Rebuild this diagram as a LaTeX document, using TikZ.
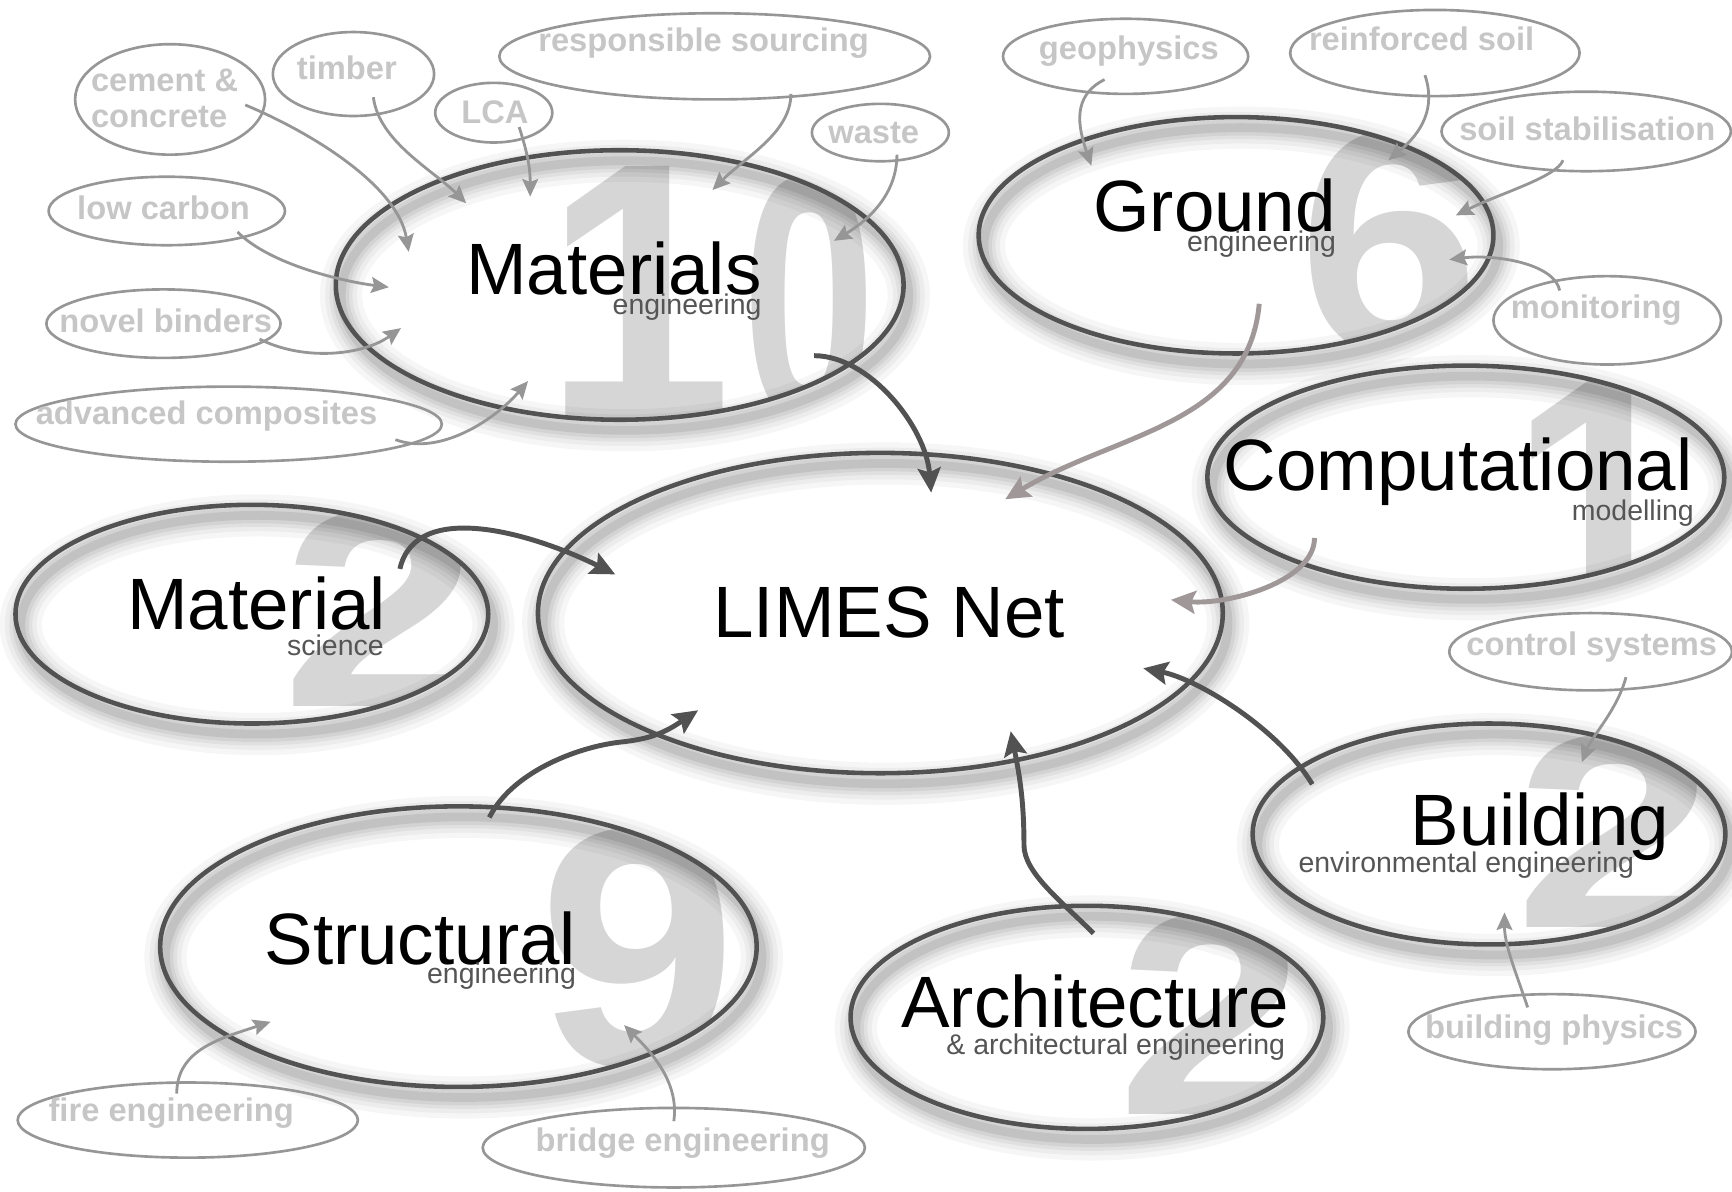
\documentclass[tikz,border=0pt]{standalone}
\usepackage{fontspec}
\setmainfont{Liberation Sans}
\usetikzlibrary{arrows.meta,shapes.geometric,shadows,backgrounds}

\newdimen\pxu \pxu=0.11046mm
\definecolor{ringdark}{RGB}{82,82,82}
\definecolor{ringgray}{RGB}{150,150,150}
\definecolor{taggray}{RGB}{198,198,198}
\definecolor{numgray}{RGB}{214,214,214}
\definecolor{subgray}{RGB}{85,85,85}
\definecolor{taupe}{RGB}{160,152,152}

\tikzset{
  haze/.style 2 args={drop shadow={fill=none, draw=black, line width=#1, opacity=#2,
      shadow xshift=1.5pt, shadow yshift=-3pt}},
  glow/.style={haze={12pt}{0.035}, haze={9pt}{0.04}, haze={6.5pt}{0.05},
    haze={4.5pt}{0.06}, haze={2.5pt}{0.08}},
}

\begin{document}
\begin{tikzpicture}[x=0.11046mm, y=-0.11046mm,
    topic/.style n args={2}{ellipse, minimum width=#1*\pxu, minimum height=#2*\pxu,
      inner sep=0pt, draw=ringdark, line width=1.3pt, glow},
    tag/.style n args={2}{ellipse, minimum width=#1*\pxu, minimum height=#2*\pxu,
      inner sep=0pt, draw=ringgray, line width=0.75pt},
    tagtext/.style={text=taggray, font=\bfseries\fontsize{9.3}{10.5}\selectfont, inner sep=0pt},
    headline/.style={font=\fontsize{20.7}{24}\selectfont, inner sep=0pt, anchor=base east},
    subline/.style={font=\fontsize{8.1}{9}\selectfont, text=subgray, inner sep=0pt, anchor=base east},
    bignum/.style={text=numgray, font=\bfseries, inner sep=0pt, anchor=south},
    lead/.style={draw=ringdark, line width=1.4pt, -{Stealth[length=7pt,width=6.5pt,inset=1.2pt]}},
    feed/.style={draw=ringgray, line width=0.8pt, -{Stealth[length=5pt,width=4.5pt,inset=0.8pt]}}]
  \useasboundingbox (0,0) rectangle (1568,1079);

  % main topics
  \node[topic={514}{244}] (mats) at (561,258) {};
  \node[topic={466}{214}] (grnd) at (1119,213) {};
  \node[topic={468}{202}] (comp) at (1327,432) {};
  \node[topic={620}{290}] (limes) at (797,555) {};
  \node[topic={428}{198}] (msci) at (228,556) {};
  \node[topic={540}{254}] (strc) at (415,857) {};
  \node[topic={428}{202}] (arch) at (984,921) {};
  \node[topic={428}{200}] (bldg) at (1348,755) {};

  % big counts behind the topics
  \begin{scope}[on background layer]
    \begin{scope}
      \clip (mats.center) ellipse [x radius=257, y radius=122];
      \node[bignum] (mats-n1) at (578,380) {\resizebox{170\pxu}{229\pxu}{1}};
      \node[bignum] (mats-n0) at (733,384) {\resizebox{121\pxu}{222\pxu}{0}};
    \end{scope}
    \begin{scope}
      \clip (grnd.center) ellipse [x radius=233, y radius=107];
      \node[bignum] (grnd-n) at (1258,322) {\resizebox{164\pxu}{200\pxu}{6}};
    \end{scope}
    \begin{scope}
      \clip (comp.center) ellipse [x radius=234, y radius=101];
      \node[bignum] (comp-n) at (1450,570) {\resizebox{166\pxu}{224\pxu}{1}};
    \end{scope}
    \begin{scope}
      \clip (msci.center) ellipse [x radius=214, y radius=99];
      \node[bignum] (msci-n) at (344,640) {\resizebox{179\pxu}{178\pxu}{2}};
    \end{scope}
    \begin{scope}
      \clip (strc.center) ellipse [x radius=270, y radius=127];
      \node[bignum] (strc-n) at (578,968) {\resizebox{180\pxu}{215\pxu}{9}};
    \end{scope}
    \begin{scope}
      \clip (arch.center) ellipse [x radius=214, y radius=101];
      \node[bignum] (arch-n) at (1097,1010) {\resizebox{170\pxu}{182\pxu}{2}};
    \end{scope}
    \begin{scope}
      \clip (bldg.center) ellipse [x radius=214, y radius=100];
      \node[bignum] (bldg-n) at (1462,840) {\resizebox{182\pxu}{175\pxu}{2}};
    \end{scope}
  \end{scope}

  % titles
  \node[headline] (mats-t) at (690,267) {Materials};
  \node[subline] (mats-s) at (690,285) {engineering};
  \node[headline] (grnd-t) at (1210,210) {Ground};
  \node[subline] (grnd-s) at (1210,228) {engineering};
  \node[headline] (comp-t) at (1533,444) {Computational};
  \node[subline] (comp-s) at (1534,471) {modelling};
  \node[headline, anchor=base] (limes-t) at (805,577) {LIMES Net};
  \node[headline] (msci-t) at (350,570) {Material};
  \node[subline] (msci-s) at (348,593) {science};
  \node[headline] (strc-t) at (522,873) {Structural};
  \node[subline] (strc-s) at (522,890) {engineering};
  \node[headline] (arch-t) at (1168,930) {Architecture};
  \node[subline] (arch-s) at (1164,955) {\& architectural engineering};
  \node[headline] (bldg-t) at (1512,765) {Building};
  \node[subline] (bldg-s) at (1480,790) {environmental engineering};

  % themes
  \node[tag={172}{100}, label={[tagtext, align=left, shift={(-5,-1)}]center:cement \&\\concrete}] (cement) at (154,90) {};
  \node[tag={146}{76}, label={[tagtext, shift={(-6,-6)}]center:timber}] (timber) at (320,67) {};
  \node[tag={106}{54}, label={[tagtext, shift={(1,0)}]center:LCA}] (lca) at (447,102) {};
  \node[tag={390}{78}, label={[tagtext, shift={(-10,-12)}]center:responsible sourcing}] (sourcing) at (647,51) {};
  \node[tag={124}{52}, label={[tagtext, shift={(-6,0)}]center:waste}] (waste) at (797,120) {};
  \node[tag={214}{62}, label={[tagtext, shift={(-3,-3)}]center:low carbon}] (lowcarb) at (151,191) {};
  \node[tag={212}{62}, label={[tagtext, shift={(2,-3)}]center:novel binders}] (binders) at (148,293) {};
  \node[tag={386}{68}, label={[tagtext, shift={(-20,-7)}]center:advanced composites}] (composites) at (207,384) {};
  \node[tag={222}{68}, label={[tagtext, shift={(3,-5)}]center:geophysics}] (geophys) at (1019,51) {};
  \node[tag={262}{78}, label={[tagtext, shift={(-12,-13)}]center:reinforced soil}] (reinsoil) at (1299,48) {};
  \node[tag={262}{72}, label={[tagtext, shift={(1,-2)}]center:soil stabilisation}] (soilstab) at (1436,119) {};
  \node[tag={206}{80}, label={[tagtext, shift={(-10,-9)}]center:monitoring}] (monitor) at (1455,290) {};
  \node[tag={256}{70}, label={[tagtext, shift={(1,-4)}]center:control systems}] (control) at (1440,590) {};
  \node[tag={260}{68}, label={[tagtext, shift={(2,-1)}]center:building physics}] (bphys) at (1405,934) {};
  \node[tag={308}{68}, label={[tagtext, shift={(-15,-6)}]center:fire engineering}] (fire) at (170,1014) {};
  \node[tag={346}{72}, label={[tagtext, shift={(8,-4)}]center:bridge engineering}] (bridge) at (610,1039) {};

  % themes feeding the topics
  \draw[feed] ([shift={(68,5)}]cement.center) .. controls +(60,25) and +(-10,-60) .. ([shift={(-191,-30)}]mats.center);
  \draw[feed] ([shift={(18,21)}]timber.center) .. controls +(5,40) and +(-30,-30) .. ([shift={(-139,-74)}]mats.center);
  \draw[feed] ([shift={(23,13)}]lca.center) .. controls +(8,25) and +(0,-25) .. ([shift={(-81,-80)}]mats.center);
  \draw[feed] ([shift={(69,34)}]sourcing.center) .. controls +(0,35) and +(30,-30) .. ([shift={(84,-86)}]mats.center);
  \draw[feed] ([shift={(15,20)}]waste.center) .. controls +(0,40) and +(25,-15) .. ([shift={(194,-40)}]mats.center);
  \draw[feed] ([shift={(64,19)}]lowcarb.center) .. controls +(30,30) and +(-40,-5) .. ([shift={(-209,2)}]mats.center);
  \draw[feed] ([shift={(87,14)}]binders.center) .. controls +(40,20) and +(-35,25) .. ([shift={(-198,39)}]mats.center);
  \draw[feed] ([shift={(151,14)}]composites.center) .. controls +(40,15) and +(-30,35) .. ([shift={(-83,87)}]mats.center);
  \draw[feed] ([shift={(-19,21)}]geophys.center) .. controls +(-30,15) and +(-12,-35) .. ([shift={(-131,-63)}]grnd.center);
  \draw[feed] ([shift={(-9,20)}]reinsoil.center) .. controls +(10,30) and +(30,-25) .. ([shift={(138,-68)}]grnd.center);
  \draw[feed] ([shift={(-21,26)}]soilstab.center) .. controls +(-5,15) and +(40,-20) .. ([shift={(199,-18)}]grnd.center);
  \draw[feed] ([shift={(-43,-27)}]monitor.center) .. controls +(-5,-25) and +(40,-5) .. ([shift={(193,22)}]grnd.center);
  \draw[feed] ([shift={(32,23)}]control.center) .. controls +(-8,30) and +(10,-25) .. ([shift={(84,-65)}]bldg.center);
  \draw[feed] ([shift={(-22,-22)}]bphys.center) .. controls +(-10,-30) and +(0,30) .. ([shift={(14,71)}]bldg.center);
  \draw[feed] ([shift={(-10,-24)}]fire.center) .. controls +(0,-40) and +(-45,15) .. ([shift={(-170,68)}]strc.center);
  \draw[feed] ([shift={(0,-24)}]bridge.center) .. controls +(5,-35) and +(25,25) .. ([shift={(150,71)}]strc.center);

  % topics into the network
  \draw[lead] ([shift={(176,64)}]mats.center) .. controls +(50,0) and +(-5,-60) .. ([shift={(46,-109)}]limes.center);
  \draw[lead, draw=taupe] ([shift={(21,62)}]grnd.center) .. controls +(-10,110) and +(100,-60) .. ([shift={(113,-103)}]limes.center);
  \draw[lead, draw=taupe] ([shift={(-137,55)}]comp.center) .. controls +(0,40) and +(50,5) .. ([shift={(263,-12)}]limes.center);
  \draw[lead] ([shift={(134,-41)}]msci.center) .. controls +(15,-65) and +(-70,-35) .. ([shift={(-240,-35)}]limes.center);
  \draw[lead] ([shift={(28,-117)}]strc.center) .. controls +(20,-40) and +(-40,5) .. ++(117,-68)
    .. controls +(30,-3) and +(-30,20) .. ([shift={(-165,88)}]limes.center);
  \draw[lead] ([shift={(6,-76)}]arch.center) .. controls +(-30,-30) and +(0,25) .. ++(-63,-80)
    .. controls +(0,-40) and +(8,40) .. ([shift={(118,107)}]limes.center);
  \draw[lead] ([shift={(-160,-45)}]bldg.center) .. controls +(-30,-50) and +(50,10) .. ([shift={(238,50)}]limes.center);
\end{tikzpicture}
\end{document}
